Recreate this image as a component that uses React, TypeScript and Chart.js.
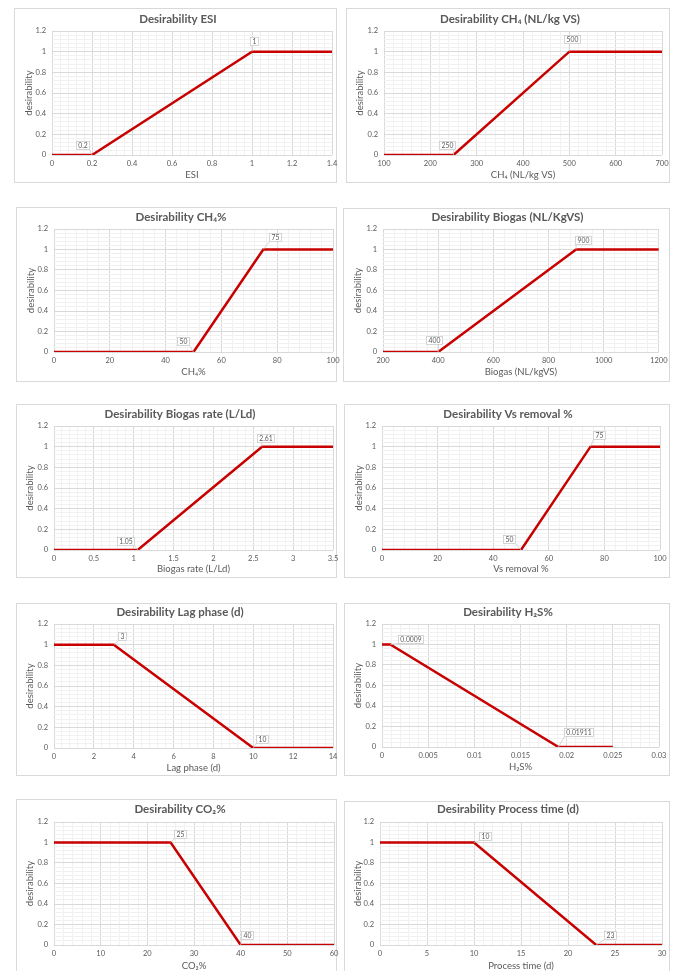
import React, { useEffect, useRef } from 'react';
import { Chart, registerables } from 'chart.js';

Chart.register(...registerables);

// ---------------- data ----------------
const esiX = [0, 0.2, 1, 1.4];
const esiY = [0, 0, 1, 1];
const ch4YieldX = [100, 250, 500, 700];
const ch4YieldY = [0, 0, 1, 1];
const ch4PctX = [0, 50, 75, 100];
const ch4PctY = [0, 0, 1, 1];
const biogasX = [200, 400, 900, 1200];
const biogasY = [0, 0, 1, 1];
const biogasRateX = [0, 1.05, 2.61, 3.5];
const biogasRateY = [0, 0, 1, 1];
const vsRemovalX = [0, 50, 75, 100];
const vsRemovalY = [0, 0, 1, 1];
const lagPhaseX = [0, 3, 10, 14];
const lagPhaseY = [1, 1, 0, 0];
const h2sX = [0, 0.0009, 0.01911, 0.025];
const h2sY = [1, 1, 0, 0];
const co2X = [0, 25, 40, 60];
const co2Y = [1, 1, 0, 0];
const processTimeX = [0, 10, 23, 30];
const processTimeY = [1, 1, 0, 0];

const titles = [
  'Desirability ESI',
  'Desirability CH\u2084 (NL/kg VS)',
  'Desirability CH\u2084%',
  'Desirability Biogas (NL/KgVS)',
  'Desirability Biogas rate (L/Ld)',
  'Desirability Vs removal %',
  'Desirability Lag phase (d)',
  'Desirability H\u2082S%',
  'Desirability CO\u2082%',
  'Desirability Process time (d)',
];
const xTitles = [
  'ESI',
  'CH\u2084 (NL/kg VS)',
  'CH\u2084%',
  'Biogas (NL/kgVS)',
  'Biogas rate (L/Ld)',
  'Vs removal %',
  'Lag phase (d)',
  'H\u2082S%',
  'CO\u2082%',
  'Process time (d)',
];
const yTitle = 'desirability';

const seriesX = [esiX, ch4YieldX, ch4PctX, biogasX, biogasRateX, vsRemovalX, lagPhaseX, h2sX, co2X, processTimeX];
const seriesY = [esiY, ch4YieldY, ch4PctY, biogasY, biogasRateY, vsRemovalY, lagPhaseY, h2sY, co2Y, processTimeY];

// axis ticks
const xAxisMin = [0, 100, 0, 200, 0, 0, 0, 0, 0, 0];
const xAxisMax = [1.4, 700, 100, 1200, 3.5, 100, 14, 0.03, 60, 30];
const xAxisMajor = [0.2, 100, 20, 200, 0.5, 20, 2, 0.005, 10, 5];
const yAxisMin = 0;
const yAxisMax = 1.2;
const yAxisMajor = 0.2;
const minorDivisions = 5;

// indices of labelled break points
const labelledPoints = [1, 2];

// ---------------- layout / style ----------------
type Geo = {
  box: number[]; // l, t, r, b
  plot: number[]; // l, t, r, b
  titleX: number;
  titleY: number;
  yTitleX: number;
  xTitleDy: number;
  callouts: number[][];
};

const geometry: Geo[] = [
  { box: [14, 8, 337, 183], plot: [52, 31, 332, 155], titleX: 178, titleY: 19.5, yTitleX: 29, xTitleDy: 19.5, callouts: [[-10, -10], [2, -11]] },
  { box: [346, 8, 670, 183], plot: [384, 31, 662, 155], titleX: 510, titleY: 19.5, yTitleX: 360, xTitleDy: 19.5, callouts: [[-7, -10], [3, -13]] },
  { box: [16, 207, 337, 382], plot: [54, 229, 333, 352], titleX: 181, titleY: 217.5, yTitleX: 30.5, xTitleDy: 20, callouts: [[-11, -11], [12, -13]] },
  { box: [343, 208, 670, 382], plot: [383, 229, 659, 352], titleX: 507.5, titleY: 217.5, yTitleX: 358, xTitleDy: 20, callouts: [[-4, -12], [7, -10]] },
  { box: [16, 404, 337, 578], plot: [54, 426, 333, 550], titleX: 180, titleY: 414.5, yTitleX: 30, xTitleDy: 19, callouts: [[-12, -9], [3, -9]] },
  { box: [344, 404, 670, 578], plot: [382, 426, 660, 550], titleX: 508, titleY: 414.5, yTitleX: 359, xTitleDy: 19, callouts: [[-12, -11], [8, -12]] },
  { box: [16, 603, 337, 776], plot: [54, 624, 333, 748], titleX: 180, titleY: 612.5, yTitleX: 30, xTitleDy: 19.5, callouts: [[8, -9], [9, -9]] },
  { box: [344, 603, 670, 776], plot: [382, 624, 659, 747], titleX: 508, titleY: 612.5, yTitleX: 358, xTitleDy: 19.5, callouts: [[20, -6], [20, -15]] },
  { box: [16, 799, 337, 985], plot: [54, 822, 334, 945], titleX: 180, titleY: 809.5, yTitleX: 30, xTitleDy: 20.5, callouts: [[9, -9], [6, -10]] },
  { box: [344, 801, 670, 985], plot: [380, 822, 662, 945], titleX: 508, titleY: 809.5, yTitleX: 358, xTitleDy: 20.5, callouts: [[11, -7], [14, -10]] },
];

const FONT = 'Lato, "Open Sans", "DejaVu Sans", sans-serif';
const TEXT = '#595959';
const RED = '#c80000';
const GRID_MAJOR = '#d9d9d9';
const GRID_MINOR = '#f1f1f1';
const TITLE_SIZE = 11.5;
const AXIS_TITLE_SIZE = 9.5;
const TICK_SIZE = 7.5;
const LH = 1.2;

function fmt(v: number): string {
  return String(Number(v.toFixed(6)));
}
function isMajor(v: number, min: number, major: number): boolean {
  const r = (v - min) / major;
  return Math.abs(r - Math.round(r)) < 1e-6;
}

function makeCallouts(xs: number[], offsets: number[][]) {
  return {
    id: 'callouts',
    afterDatasetsDraw(chart: any) {
      const ctx = chart.ctx as CanvasRenderingContext2D;
      const meta = chart.getDatasetMeta(0);
      ctx.save();
      ctx.font = `6.8px ${FONT}`;
      labelledPoints.forEach((idx, k) => {
        const pt = meta.data[idx];
        if (!pt) return;
        const [dx, dy] = offsets[k];
        const text = fmt(xs[idx]);
        const tw = ctx.measureText(text).width;
        const w = Math.round(tw + 4);
        const h = 8;
        const cx = pt.x + dx;
        const cy = pt.y + dy;
        const bx = Math.round(cx - w / 2) + 0.5;
        const by = Math.round(cy - h / 2) + 0.5;
        const ex = Math.min(Math.max(pt.x, bx), bx + w);
        ctx.strokeStyle = '#c8c8c8';
        ctx.lineWidth = 0.75;
        ctx.beginPath();
        ctx.moveTo(pt.x, pt.y);
        ctx.lineTo(ex, by + h);
        ctx.stroke();
        ctx.fillStyle = '#ffffff';
        ctx.fillRect(bx, by, w, h);
        ctx.strokeStyle = '#c8c8c8';
        ctx.strokeRect(bx, by, w, h);
        ctx.fillStyle = TEXT;
        ctx.textAlign = 'center';
        ctx.textBaseline = 'middle';
        ctx.fillText(text, bx + w / 2, by + h / 2 + 0.5);
      });
      ctx.restore();
    },
  };
}

function Panel({ idx }: { idx: number }) {
  const ref = useRef<HTMLCanvasElement>(null);
  const g = geometry[idx];
  const [bl, bt, br, bb] = g.box;
  const [pl, pt, pr, pb] = g.plot;
  const canvasRight = 2 * g.titleX - bl;
  const width = canvasRight - bl;
  const height = bb - bt;

  useEffect(() => {
    if (!ref.current) return;
    const xs = seriesX[idx];
    const ys = seriesY[idx];
    const xmin = xAxisMin[idx];
    const xmax = xAxisMax[idx];
    const xmaj = xAxisMajor[idx];
    const titleLine = TITLE_SIZE * LH;
    const titlePadTop = g.titleY - bt - titleLine / 2;
    const titlePadBottom = pt - bt - titleLine - titlePadTop;
    const axisLine = AXIS_TITLE_SIZE * LH;
    const yW = pl - bl;
    const xH = bb - pb;
    const rW = canvasRight - pr;
    const yTitlePad = g.yTitleX - bl - axisLine / 2;
    const xTitlePad = xH - g.xTitleDy - axisLine / 2;

    const tickFont = { family: FONT, size: TICK_SIZE, lineHeight: LH };
    const axisFont = { family: FONT, size: AXIS_TITLE_SIZE, lineHeight: LH };

    const chart = new Chart(ref.current, {
      type: 'line',
      data: {
        datasets: [
          {
            data: xs.map((x, i) => ({ x, y: ys[i] })),
            borderColor: RED,
            backgroundColor: RED,
            borderWidth: 2.5,
            pointRadius: 0,
            pointHoverRadius: 0,
            fill: false,
            tension: 0,
            borderJoinStyle: 'miter',
          },
        ],
      },
      options: {
        animation: false,
        responsive: false,
        maintainAspectRatio: false,
        devicePixelRatio: 1,
        events: [],
        layout: { padding: 0 },
        plugins: {
          legend: { display: false },
          tooltip: { enabled: false },
          title: {
            display: true,
            text: titles[idx],
            color: TEXT,
            font: { family: FONT, size: TITLE_SIZE, weight: 'bold', lineHeight: LH },
            padding: { top: titlePadTop, bottom: titlePadBottom },
          },
        },
        scales: {
          x: {
            type: 'linear',
            min: xmin,
            max: xmax,
            afterFit: (s: any) => {
              s.height = xH;
            },
            ticks: {
              stepSize: xmaj / minorDivisions,
              autoSkip: false,
              maxRotation: 0,
              minRotation: 0,
              padding: 4.5,
              color: TEXT,
              font: tickFont,
              callback: (v: any) => (isMajor(Number(v), xmin, xmaj) ? fmt(Number(v)) : ''),
            },
            grid: {
              drawTicks: false,
              lineWidth: 1,
              color: (c: any) =>
                c.tick && isMajor(c.tick.value, xmin, xmaj) ? GRID_MAJOR : GRID_MINOR,
            },
            border: { display: false },
            title: {
              display: true,
              text: xTitles[idx],
              color: TEXT,
              font: axisFont,
              padding: { top: 0, bottom: xTitlePad },
            },
          },
          y: {
            type: 'linear',
            min: yAxisMin,
            max: yAxisMax,
            afterFit: (s: any) => {
              s.width = yW;
            },
            ticks: {
              stepSize: yAxisMajor / minorDivisions,
              autoSkip: false,
              padding: 6,
              color: TEXT,
              font: tickFont,
              callback: (v: any) => (isMajor(Number(v), yAxisMin, yAxisMajor) ? fmt(Number(v)) : ''),
            },
            grid: {
              drawTicks: false,
              lineWidth: 1,
              color: (c: any) =>
                c.tick && isMajor(c.tick.value, yAxisMin, yAxisMajor) ? GRID_MAJOR : GRID_MINOR,
            },
            border: { display: false },
            title: {
              display: true,
              text: yTitle,
              color: TEXT,
              font: axisFont,
              padding: { top: yTitlePad, bottom: 0 },
            },
          },
          yRight: {
            type: 'linear',
            position: 'right',
            display: true,
            afterFit: (s: any) => {
              s.width = rW;
            },
            ticks: { display: false },
            grid: { display: false, drawTicks: false },
            border: { display: false },
          },
        },
      } as any,
      plugins: [makeCallouts(xs, g.callouts)],
    });
    return () => chart.destroy();
  }, [idx]);

  return (
    <>
      <div
        style={{
          position: 'absolute',
          left: bl,
          top: bt,
          width: br - bl,
          height: bb - bt,
          border: '1px solid #d9d9d9',
          boxSizing: 'border-box',
          background: '#ffffff',
        }}
      />
      <canvas
        ref={ref}
        width={width}
        height={height}
        style={{ position: 'absolute', left: bl, top: bt, width, height }}
      />
    </>
  );
}

export default function App() {
  return (
    <div
      style={{
        position: 'absolute',
        left: 0,
        top: 0,
        width: 676,
        height: 971,
        overflow: 'hidden',
        background: '#ffffff',
      }}
    >
      {geometry.map((_, i) => (
        <Panel key={i} idx={i} />
      ))}
    </div>
  );
}
